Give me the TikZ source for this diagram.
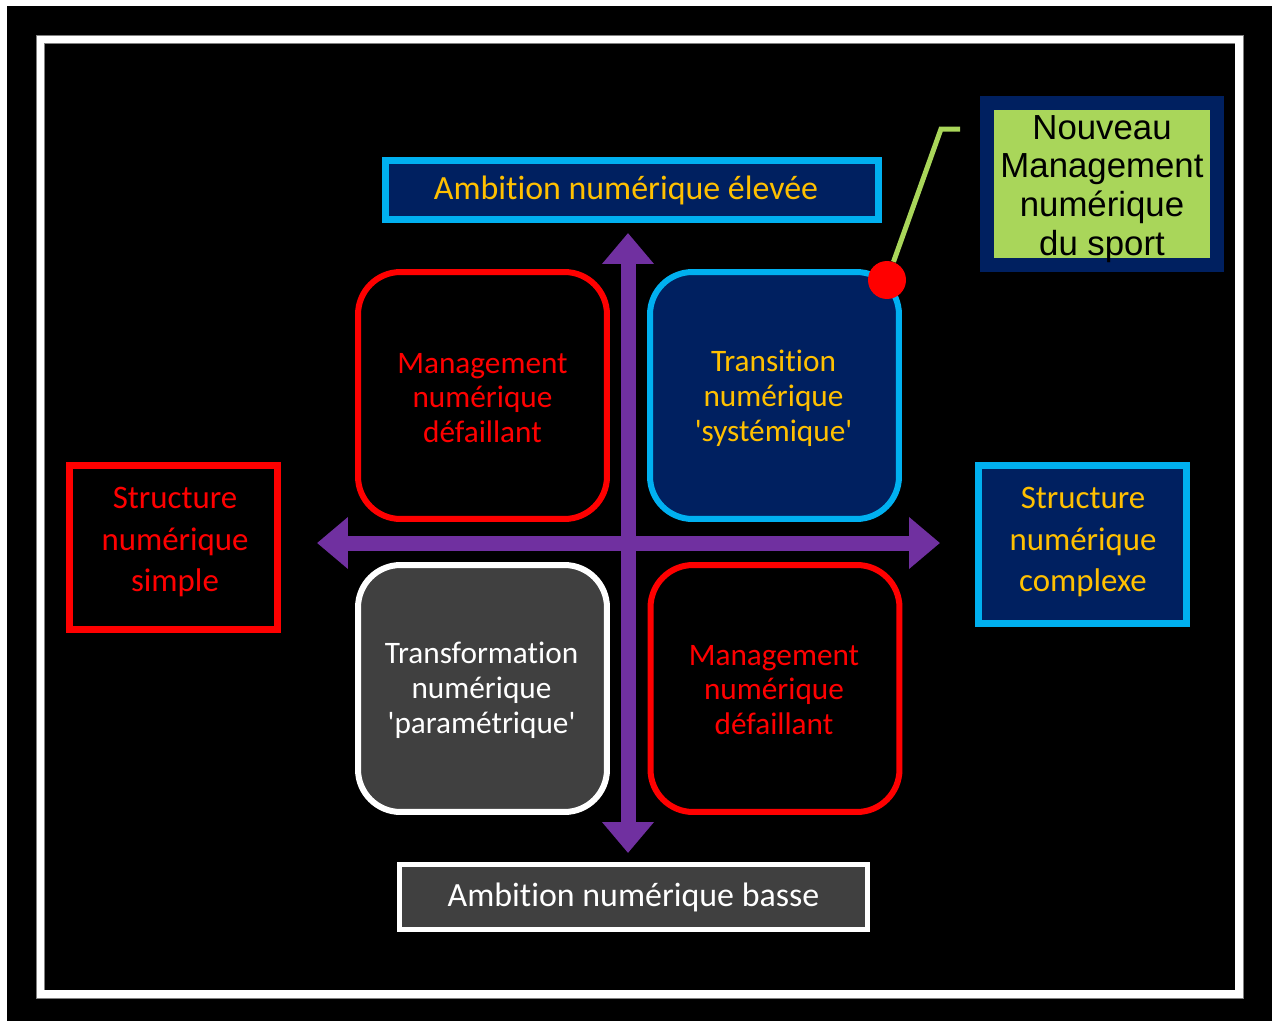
\documentclass[tikz,border=0pt]{standalone}
\usepackage{fontspec}
\setmainfont{Carlito}[Ligatures={NoCommon}]
\newfontfamily\arialfont{Liberation Sans}
\usetikzlibrary{arrows.meta}
\definecolor{navyfill}{HTML}{002060}
\definecolor{cyanline}{HTML}{00B0F0}
\definecolor{goldtext}{HTML}{FFC000}
\definecolor{darkfill}{HTML}{404040}
\definecolor{axispurple}{HTML}{7030A0}
\definecolor{leafgreen}{HTML}{A9D65A}
\newcommand\quadfont{\fontsize{17.8}{19.8}\selectfont}
\newcommand\sidefont{\fontsize{18.7}{23.8}\selectfont}
\newcommand\ambitionfont{\fontsize{19.3}{23}\selectfont}
\newcommand\notefont{\arialfont\fontsize{19.8}{22.1}\selectfont}

\begin{document}
\begin{tikzpicture}[x=0.02cm, y=-0.02cm,
        quad/.style={draw, rounded corners=0.85cm, line width=0.12cm, minimum width=4.98cm,
            minimum height=4.94cm, inner sep=0pt, align=center, font=\quadfont},
        quadtext/.style={align=center, font=\quadfont, inner sep=0pt},
        sidebox/.style={draw, line width=0.14cm, minimum width=4.16cm, inner sep=0pt},
        sidetext/.style={align=center, font=\sidefont, inner sep=0pt},
        ambition/.style={draw, minimum width=9.86cm, minimum height=1.2cm, inner sep=0pt, font=\ambitionfont},
        axis/.style={axispurple, line width=0.3cm, >={Triangle[width=1cm,length=0.62cm]}, <->}]
        \useasboundingbox (0,0) rectangle (1272,1021);
        \fill[white] (0,0) rectangle (1272,1021);
        \fill[black] (7,6) rectangle (1272,1021);
        \draw[gray, line width=0.01cm, double=white, double distance=0.16cm] (40.5,39.5) rectangle (1239,994);

        \coordinate (ytop) at (628,233);
        \coordinate (ybot) at (628,853);
        \coordinate (xleft) at (317,543);
        \coordinate (xright) at (940,543);
        \draw[axis] (ybot) -- (ytop);
        \draw[axis] (xleft) -- (xright);

        \node[quad, red, fill=black] (failtop) at (482.5,395.5) {};
        \node[quadtext, red] (failtoptext) at (482.5,398)
            {Management\\numérique\\défaillant};
        \node[quad, draw=cyanline, fill=navyfill] (transition) at (774.5,395.5) {};
        \node[quadtext, goldtext] (transitiontext) at (773.5,398)
            {Transition\\numérique\\\textquotesingle systémique\textquotesingle};
        \node[quad, draw=white, fill=darkfill] (transformation) at (482.5,688.5) {};
        \node[quadtext, white] (transformationtext) at (481.5,690)
            {Transformation\\numérique\\\textquotesingle paramétrique\textquotesingle};
        \node[quad, red, fill=black] (failbottom) at (775,688.5) {};
        \node[quadtext, red] (failbottomtext) at (774,690)
            {Management\\numérique\\défaillant};

        \node[ambition, draw=cyanline, line width=0.14cm, fill=navyfill, text=goldtext] (high) at (632,190)
            {Ambition numérique élevée\kern0.24cm};
        \node[ambition, draw=white, line width=0.1cm, fill=darkfill, text=white,
            minimum width=9.36cm, minimum height=1.3cm] (low) at (633.5,897)
            {Ambition numérique basse};

        \node[sidebox, red, fill=black, minimum height=3.28cm] (simple) at (173.5,547.5) {};
        \node[sidetext, red] (simpletext) at (175,542)
            {Structure\\numérique\\simple};
        \node[sidebox, draw=cyanline, fill=navyfill, minimum height=3.16cm] (complex) at (1082.5,544.5) {};
        \node[sidetext, goldtext] (complextext) at (1083,542)
            {Structure\\numérique\\complexe};

        \node[draw=navyfill, line width=0.28cm, fill=leafgreen, minimum width=4.6cm, minimum height=3.24cm,
            inner sep=0pt] (sport) at (1102,184) {};
        \node[align=center, font=\notefont, inner sep=0pt] (sporttext) at (1102,189)
            {Nouveau\\Management\\numérique\\du sport};
        \node[circle, fill=red, minimum size=0.76cm, inner sep=0pt] (dot) at (887,280) {};
        \coordinate (bend) at (941,129);
        \coordinate (leadend) at (960,129);
        \draw[leafgreen, line width=0.1cm] (dot) -- (bend) -- (leadend);
    \end{tikzpicture}
\end{document}
